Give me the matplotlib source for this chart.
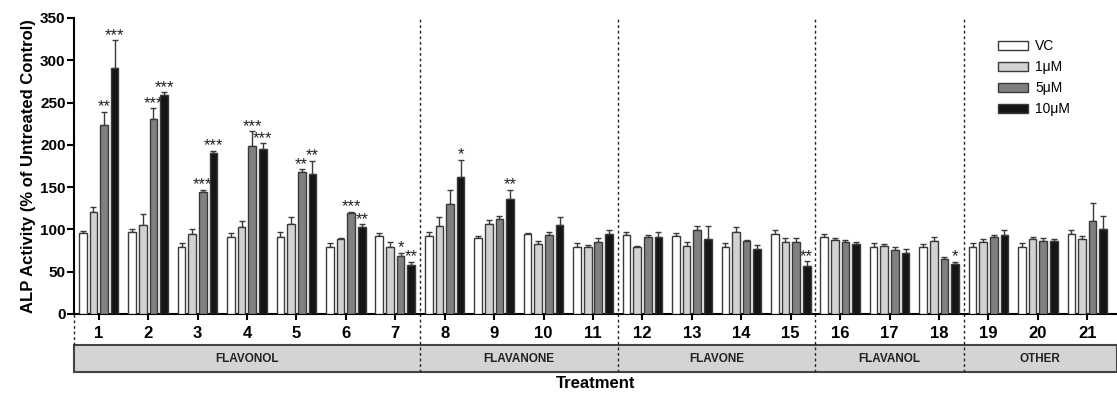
import numpy as np
import matplotlib
matplotlib.use('Agg')
import matplotlib.pyplot as plt
from matplotlib.patches import Rectangle, Patch

plt.rcParams['font.family'] = ['Liberation Sans', 'DejaVu Sans']

groups = [str(i) for i in range(1, 22)]
series = ['VC', '1\u03bcM', '5\u03bcM', '10\u03bcM']

vc = [96.2, 96.6, 78.8, 90.7, 91.4, 78.8, 92.2, 91.8, 89.5, 95.0, 78.8,
      93.4, 91.8, 78.8, 94.6, 91.4, 78.8, 78.8, 78.8, 78.8, 94.6]
vc_err = [2.3, 3.4, 4.8, 4.7, 5.2, 4.8, 3.6, 4.8, 2.3, 1.0, 4.8,
          3.2, 3.6, 4.8, 4.7, 3.2, 4.8, 4.4, 4.8, 4.8, 4.3]
um1 = [120.2, 105.6, 94.6, 103.3, 106.4, 89.0, 79.2, 104.0, 106.0, 82.4, 78.8,
       79.2, 80.8, 97.4, 84.7, 87.1, 80.4, 86.3, 85.1, 88.7, 88.3]
um1_err = [6.7, 12.3, 5.9, 6.3, 7.9, 0.5, 5.5, 11.0, 5.0, 4.3, 2.2,
           1.6, 4.7, 5.9, 4.8, 3.2, 2.4, 4.4, 3.9, 2.0, 3.5]
um5 = [223, 230, 143.9, 199, 168, 119, 68.6, 130.5, 112.7, 93.8, 85.5,
       91.4, 99.3, 86.3, 84.7, 85.1, 75.7, 65.0, 91.0, 86.3, 110.4]
um5_err = [16, 13, 2.7, 17, 3, 1.6, 3.9, 16.1, 3.2, 3.6, 4.0,
           2.4, 4.4, 1.2, 4.8, 2.4, 3.5, 2.4, 2.8, 3.6, 20.9]
um10 = [291, 259, 190.8, 194.7, 166, 102.5, 58, 162.4, 135.6, 105.6, 94.6,
        90.7, 88.3, 76.5, 56.4, 82.4, 72.5, 58.7, 93.8, 86.3, 100.1]
um10_err = [32.6, 3, 2.2, 7.1, 15, 3.5, 4, 20.1, 11, 9.1, 4.4,
            5.9, 15.4, 5.5, 5.9, 2.3, 4.0, 3.2, 5.1, 2.0, 15.8]

stars_vc = [''] * 21
stars_1 = [''] * 21
stars_5 = ['**', '***', '***', '***', '**', '***', '*'] + [''] * 14
stars_10 = ['***', '***', '***', '***', '**', '**', '**', '*', '**', '', '',
            '', '', '', '**', '', '', '*', '', '', '']

classes = ['FLAVONOL', 'FLAVANONE', 'FLAVONE', 'FLAVANOL', 'OTHER']
class_bounds = [0.5, 7.5, 11.5, 15.5, 18.5, 21.6]

means = [vc, um1, um5, um10]
errs = [vc_err, um1_err, um5_err, um10_err]
stars = [stars_vc, stars_1, stars_5, stars_10]
colors = ['white', '#d2d2d2', '#808080', '#151515']

fig = plt.figure(figsize=(11.17, 3.96), dpi=100)
ax = fig.add_axes([0.0662, 0.2071, 0.9338, 0.7475])

x = np.arange(1, 22)
w = 0.155
step = 0.215
for k in range(4):
    xs = x + (k - 1.5) * step
    ax.bar(xs, means[k], width=w, color=colors[k], edgecolor='#3a3a3a', linewidth=1.0, zorder=3)
    ax.errorbar(xs, means[k], yerr=[np.zeros(21), errs[k]], fmt='none', ecolor='#3a3a3a',
                elinewidth=1.0, capsize=2.5, capthick=1.0, zorder=2)
    for xi, m, e, s in zip(xs, means[k], errs[k], stars[k]):
        if s:
            ax.text(xi, m + e + 0.5, s, ha='center', va='baseline', fontsize=12, color='#222')

ax.set_xlim(0.5, 21.6)
ax.set_ylim(0, 350)
ax.set_yticks(range(0, 351, 50))
ax.set_xticks(x)
ax.set_xticklabels(groups, fontweight='bold', fontsize=12)
for lab in ax.get_yticklabels():
    lab.set_fontweight('bold')
    lab.set_fontsize(11)
ax.tick_params(axis='y', length=5, width=1.5, pad=1)
ax.tick_params(axis='x', length=4, width=1.5, pad=5)
ax.spines['top'].set_visible(False)
ax.spines['right'].set_visible(False)
ax.spines['left'].set_linewidth(1.5)
ax.spines['bottom'].set_linewidth(1.5)
ax.set_ylabel('ALP Activity (% of Untreated Control)', fontweight='bold', fontsize=12, labelpad=3)
ax.set_xlabel('Treatment', fontweight='bold', fontsize=12, labelpad=25)

# category band below the axis
trans = ax.get_xaxis_transform()
band_top, band_bot = -0.105, -0.196
ax.add_patch(Rectangle((class_bounds[0], band_bot), class_bounds[-1] - class_bounds[0],
                       band_top - band_bot, transform=trans, facecolor='#d4d4d4',
                       edgecolor='#444', linewidth=1.5, clip_on=False, zorder=1))
for name, a, b in zip(classes, class_bounds[:-1], class_bounds[1:]):
    ax.text((a + b) / 2, (band_top + band_bot) / 2, name, transform=trans, ha='center',
            va='center', fontsize=8.5, fontweight='bold', color='#222')
for b in class_bounds[1:-1]:
    ax.plot([b, b], [band_bot, 1.0], transform=trans, color='#222', linestyle=(0, (2, 2)),
            linewidth=1.0, clip_on=False, zorder=1)
ax.plot([0.5, 0.5], [band_top, 0], transform=trans, color='#222', linestyle=(0, (2, 2)),
        linewidth=1.0, clip_on=False, zorder=1)

handles = [Patch(facecolor=c, edgecolor='#3a3a3a', linewidth=1.0) for c in colors]
ax.legend(handles, series, loc='upper left', bbox_to_anchor=(0.8735, 0.97), frameon=False,
          fontsize=10, handlelength=2.2, handleheight=0.6, labelspacing=0.5, handletextpad=0.5)

fig.savefig('out.png', dpi=100)
